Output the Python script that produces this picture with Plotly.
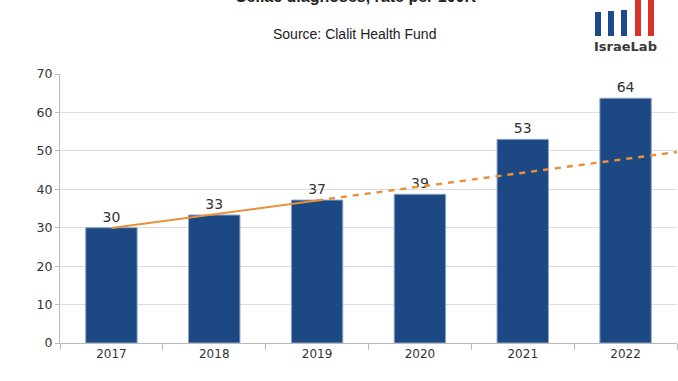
import numpy as np
import plotly.graph_objects as go

years = [2017, 2018, 2019, 2020, 2021, 2022]
rates = [30.0, 33.3, 37.2, 38.7, 53.0, 63.7]
labels = ["30", "33", "37", "39", "53", "64"]
trend_years = years[:3]  # trend fitted on first three years
title_text = "Celiac diagnoses, rate per 100K"
subtitle_text = "Source: Clalit Health Fund"

W, H = 678, 381
ML, MR, MT, MB = 60, 1, 74, 38
PW, PH = W - ML - MR, H - MT - MB

def px(x):
    return (x - ML) / PW

def py(y):
    return 1 - (y - MT) / PH

slope, intercept = np.polyfit(trend_years, rates[:3], 1)
x_solid = [trend_years[0], trend_years[-1]]
x_dash = [trend_years[-1], years[-1] + 0.5]

fig = go.Figure()
fig.add_trace(go.Bar(
    x=years, y=rates, width=0.5,
    marker=dict(color="#1c4883", line=dict(color="#8fa6c8", width=1)),
    text=labels, textposition="outside", cliponaxis=False,
    textfont=dict(family="DejaVu Sans", size=14, color="#333333"),
))
fig.add_trace(go.Scatter(
    x=x_solid, y=[slope * x + intercept for x in x_solid], mode="lines",
    line=dict(color="#e8923a", width=2),
))
fig.add_trace(go.Scatter(
    x=x_dash, y=[slope * x + intercept for x in x_dash], mode="lines",
    line=dict(color="#e8923a", width=2.5, dash="6px,6px"),
))

# Title (clipped at top in the reference) and subtitle
fig.add_annotation(text=f"<b>{title_text}</b>", xref="paper", yref="paper",
                   x=px(355), y=py(-3.5), showarrow=False, xanchor="center", yanchor="middle",
                   font=dict(family="Liberation Sans", size=16, color="#222222"))
fig.add_annotation(text=subtitle_text, xref="paper", yref="paper",
                   x=px(354), y=py(34), showarrow=False, xanchor="center", yanchor="middle",
                   font=dict(family="Liberation Sans", size=14, color="#222222"))

# IsraeLab logo
logo_bars = [(595, 12, "#1c4a8c"), (608, 11, "#1c4a8c"), (621, 10, "#1c4a8c"),
             (635, -2, "#d8332a"), (648, -2, "#d8332a")]
for x0, top, col in logo_bars:
    fig.add_shape(type="rect", xref="paper", yref="paper",
                  x0=px(x0), x1=px(x0 + 6), y0=py(36), y1=py(top),
                  fillcolor=col, line=dict(width=0))
fig.add_annotation(text="<b>IsraeLab</b>", xref="paper", yref="paper",
                   x=px(625), y=py(46), showarrow=False, xanchor="center", yanchor="middle",
                   font=dict(family="DejaVu Sans", size=13, color="#3a3a3a"))

fig.update_layout(
    width=W, height=H, margin=dict(l=ML, r=MR, t=MT, b=MB),
    paper_bgcolor="white", plot_bgcolor="white", showlegend=False,
    font=dict(family="DejaVu Sans", color="#333333"),
)
fig.update_xaxes(
    range=[years[0] - 0.5, years[-1] + 0.5], tickvals=years, ticktext=[str(y) for y in years],
    ticks="", showgrid=False, showline=True, linecolor="#b8b8b8", linewidth=1,
    tickfont=dict(family="DejaVu Sans", size=12, color="#333333"),
    minor=dict(tickvals=[y - 0.5 for y in years] + [years[-1] + 0.5], ticks="outside",
               ticklen=6, tickcolor="#b8b8b8", showgrid=False),
    zeroline=False,
)
fig.update_yaxes(
    range=[0, 70], dtick=10, showgrid=True, gridcolor="#dcdcdc", gridwidth=1,
    showline=True, linecolor="#b8b8b8", ticks="outside", ticklen=4, tickcolor="#b8b8b8",
    tickfont=dict(family="DejaVu Sans", size=12.5, color="#333333"), zeroline=False,
)
fig.write_html("out.html", config={"displayModeBar": False},
               post_script="document.body.style.margin='0';document.body.style.overflow='hidden';")
